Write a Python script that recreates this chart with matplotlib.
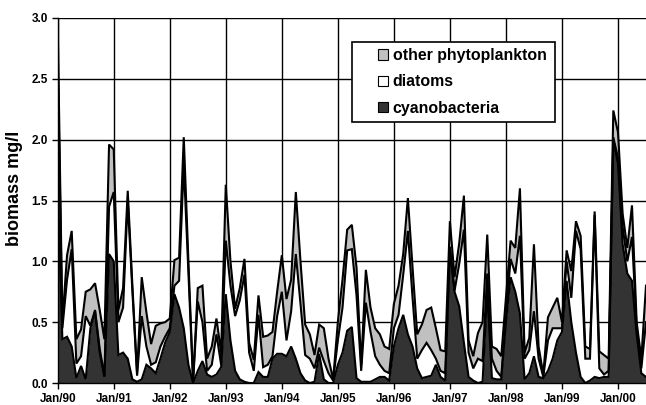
import matplotlib
matplotlib.use('Agg')
import matplotlib.pyplot as plt
from matplotlib.patches import Patch, Rectangle
import numpy as np

plt.rcParams['font.family'] = ['Liberation Sans', 'DejaVu Sans']
plt.rcParams['font.weight'] = 'bold'

tick_labels = ['Jan/90', 'Jan/91', 'Jan/92', 'Jan/93', 'Jan/94', 'Jan/95',
               'Jan/96', 'Jan/97', 'Jan/98', 'Jan/99', 'Jan/00']
series_names = ['other phytoplankton', 'diatoms', 'cyanobacteria']

# monthly biomass (mg/l), Jan 1990 onwards
cyanobacteria = [1.65, 0.36, 0.38, 0.30, 0.04, 0.14, 0.03, 0.45, 0.59, 0.25, 0.05, 1.06,
                 1.00, 0.23, 0.25, 0.20, 0.03, 0.01, 0.03, 0.15, 0.12, 0.08, 0.20, 0.33,
                 0.42, 0.73, 0.62, 0.45, 0.15, 0.00, 0.10, 0.18, 0.07, 0.05, 0.07, 0.13,
                 0.73, 0.35, 0.10, 0.03, 0.01, 0.00, 0.00, 0.09, 0.05, 0.05, 0.20, 0.24,
                 0.24, 0.22, 0.30, 0.20, 0.08, 0.02, 0.00, 0.01, 0.24, 0.03, 0.00, 0.00,
                 0.15, 0.25, 0.43, 0.46, 0.04, 0.01, 0.01, 0.01, 0.03, 0.05, 0.05, 0.02,
                 0.30, 0.45, 0.56, 0.40, 0.30, 0.12, 0.04, 0.05, 0.06, 0.15, 0.05, 0.02,
                 1.10, 0.75, 0.63, 0.33, 0.05, 0.02, 0.00, 0.01, 0.76, 0.04, 0.03, 0.03,
                 0.50, 0.87, 0.75, 0.57, 0.03, 0.08, 0.22, 0.05, 0.04, 0.10, 0.20, 0.35,
                 0.42, 0.84, 0.50, 0.25, 0.05, 0.00, 0.02, 0.05, 0.04, 0.05, 0.05, 2.00,
                 1.80, 1.14, 0.90, 0.84, 0.40, 0.08, 0.05]

diatoms = [1.03, 0.09, 0.47, 0.80, 0.12, 0.08, 0.52, 0.02, 0.01, 0.03, 0.01, 0.39,
           0.57, 0.27, 0.37, 1.30, 0.72, 0.05, 0.52, 0.15, 0.03, 0.09, 0.10, 0.05,
           0.03, 0.07, 0.22, 1.35, 0.75, 0.01, 0.57, 0.32, 0.03, 0.10, 0.33, 0.02,
           0.44, 0.45, 0.45, 0.65, 0.88, 0.25, 0.10, 0.47, 0.08, 0.10, 0.02, 0.31,
           0.51, 0.13, 0.29, 0.86, 0.57, 0.21, 0.20, 0.11, 0.05, 0.15, 0.08, 0.02,
           0.20, 0.37, 0.66, 0.64, 0.68, 0.09, 0.65, 0.41, 0.19, 0.10, 0.05, 0.06,
           0.15, 0.11, 0.33, 0.85, 0.40, 0.08, 0.23, 0.28, 0.21, 0.05, 0.05, 0.06,
           0.02, 0.01, 0.35, 0.93, 0.20, 0.10, 0.20, 0.17, 0.14, 0.16, 0.07, 0.02,
           0.05, 0.15, 0.15, 0.64, 0.17, 0.19, 0.37, 0.15, 0.01, 0.25, 0.25, 0.10,
           0.03, 0.16, 0.20, 1.00, 1.05, 0.20, 0.18, 1.33, 0.08, 0.02, 0.05, 0.02,
           0.05, 0.14, 0.10, 0.36, 0.05, 0.04, 0.45]

other_phytoplankton = [0.27, 0.05, 0.20, 0.15, 0.20, 0.22, 0.20, 0.30, 0.22, 0.32, 0.30, 0.51,
                       0.35, 0.10, 0.16, 0.08, 0.05, 0.02, 0.32, 0.28, 0.17, 0.30, 0.19, 0.12,
                       0.08, 0.21, 0.19, 0.22, 0.10, 0.01, 0.11, 0.30, 0.10, 0.15, 0.13, 0.10,
                       0.46, 0.20, 0.06, 0.10, 0.13, 0.08, 0.09, 0.16, 0.25, 0.24, 0.20, 0.20,
                       0.30, 0.34, 0.26, 0.51, 0.35, 0.25, 0.20, 0.11, 0.19, 0.27, 0.12, 0.01,
                       0.15, 0.23, 0.17, 0.20, 0.23, 0.05, 0.27, 0.20, 0.23, 0.25, 0.20, 0.20,
                       0.20, 0.24, 0.17, 0.27, 0.25, 0.20, 0.21, 0.27, 0.35, 0.25, 0.17, 0.18,
                       0.21, 0.11, 0.17, 0.28, 0.10, 0.10, 0.21, 0.32, 0.32, 0.10, 0.18, 0.17,
                       0.15, 0.15, 0.21, 0.39, 0.05, 0.10, 0.55, 0.10, 0.02, 0.19, 0.17, 0.25,
                       0.05, 0.09, 0.22, 0.08, 0.11, 0.10, 0.08, 0.03, 0.14, 0.16, 0.10, 0.22,
                       0.21, 0.11, 0.11, 0.26, 0.05, 0.08, 0.30]

c = np.array(cyanobacteria)
d = np.array(diatoms)
o = np.array(other_phytoplankton)
x = np.arange(len(c))
b1 = c
b2 = c + d
b3 = b2 + o

W, H = 646, 405
fig = plt.figure(figsize=(W / 100, H / 100), dpi=100)
ax = fig.add_axes([57.7 / W, 22 / H, 1 - 57.7 / W, 365 / H])

col_other = '#c0c0c0'
col_diat = '#ffffff'
col_cyan = '#333333'

ax.fill_between(x, 0, b1, color=col_cyan, lw=0, zorder=2)
ax.fill_between(x, b1, b2, color=col_diat, lw=0, zorder=2)
ax.fill_between(x, b2, b3, color=col_other, lw=0, zorder=2)
for b in (b1, b2, b3):
    ax.plot(x, b, color='black', lw=1.5, zorder=3, solid_joinstyle='miter')

ax.set_xlim(0, len(c) - 1)
ax.set_ylim(0, 3.0)
yt = np.arange(0, 3.01, 0.5)
ax.set_yticks(yt)
ax.set_yticklabels(['%.1f' % v for v in yt])
ax.set_xticks(np.arange(0, 12 * len(tick_labels), 12))
ax.set_xticklabels(tick_labels)
ax.set_axisbelow(True)
ax.grid(True, color='black', lw=1.0, zorder=0)
ax.tick_params(axis='both', labelsize=8.5, length=4, width=1.0, color='black', pad=3)
for s in ('top', 'right'):
    ax.spines[s].set_visible(False)
for s in ('left', 'bottom'):
    ax.spines[s].set_linewidth(1.0)
    ax.spines[s].set_zorder(4)
ax.set_ylabel('biomass mg/l', fontsize=13, fontweight='bold')
ax.yaxis.set_label_coords((23 - 57.7) / (W - 57.7), 1 - (188 - 18) / 365)

# legend frame
frame = Rectangle((352 / W, 1 - 122 / H), 203 / W, 80 / H, transform=fig.transFigure,
                  facecolor='white', edgecolor='black', lw=1.2, zorder=4.5, clip_on=False)
ax.add_patch(frame)

handles = [Patch(facecolor=col_other, edgecolor='black', lw=0.8),
           Patch(facecolor=col_diat, edgecolor='black', lw=0.8),
           Patch(facecolor=col_cyan, edgecolor='black', lw=0.8)]
leg = ax.legend(handles, series_names, loc='center left',
                bbox_to_anchor=(378 / W, 1 - 82 / H), bbox_transform=fig.transFigure,
                fontsize=11.4, frameon=False,
                handlelength=0.62, handleheight=0.62, handletextpad=0.3,
                labelspacing=0.72, borderpad=0, borderaxespad=0)
leg.set_zorder(5)

fig.savefig('out.png', dpi=100)
